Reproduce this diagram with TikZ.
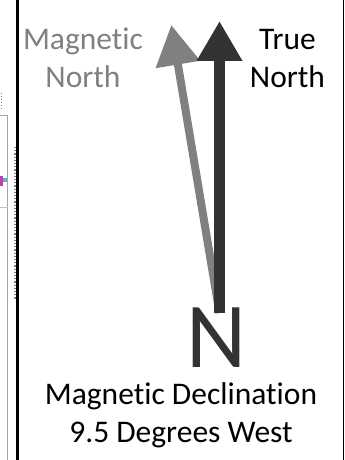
\documentclass[tikz,border=0pt]{standalone}
\usepackage{fontspec}
\setmainfont{Carlito}[Ligatures=CommonOff]
\usetikzlibrary{arrows.meta}

\definecolor{needledark}{HTML}{333333}
\definecolor{needlegray}{HTML}{808080}

\begin{document}
\begin{tikzpicture}[x=1pt, y=-1pt,
    label/.style={align=center, inner sep=0pt, font=\fontsize{31.5}{38}\selectfont},
    needle/.style={-{Triangle[width=43pt, length=40pt]}}]
  \useasboundingbox (0,0) rectangle (345,460);

  % what is left of the map on the left
  \draw[line width=3pt] (17.5,0) -- (17.5,460);
  \draw[gray, line width=1.2pt, dotted] (15,147) -- (15,300);
  \draw[gray!70, line width=0.8pt] (0,115) -- (7.5,115) -- (7.5,460);
  \draw[gray!50, line width=0.6pt] (0,207) -- (7.5,207);
  \draw[gray, line width=1pt, dotted] (1,93) -- (1,110);
  \fill[violet!70] (0,176) rectangle (3,186);
  \fill[teal!60] (3,178) rectangle (7,182);
  \draw[line width=1.5pt] (343.5,0) -- (343.5,460);

  % needles
  \coordinate (base) at (219.5,313);
  \coordinate (mag) at ([shift={(-99.5:292)}]base);
  \coordinate (true) at (219.5,21);
  \draw[needle, needlegray, line width=8pt] (base) -- (mag);
  \draw[needle, needledark, line width=11pt] (base) -- (true);

  \node[font=\fontsize{93}{93}\selectfont, text=needledark, inner sep=0pt,
        text height=59pt, text depth=0pt, anchor=base] (n) at (216.5,367) {N};

  \node[label, text=needlegray, anchor=base] (magnorth) at (83,87) {Magnetic\\North};
  \node[label, anchor=base] (truenorth) at (287.5,87) {True\\North};
  \node[label, anchor=base] (decl) at (181,442) {Magnetic Declination\\9.5 Degrees West};
\end{tikzpicture}
\end{document}
